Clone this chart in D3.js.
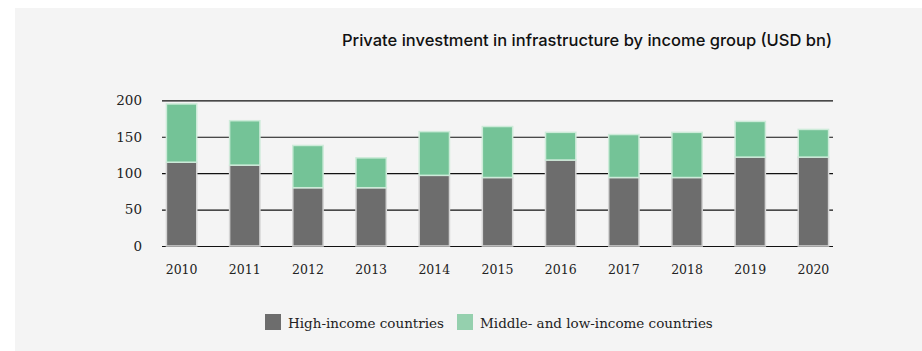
<!DOCTYPE html>
<html>
<head>
<meta charset="utf-8">
<script src="https://cdn.jsdelivr.net/npm/d3@7"></script>
<style>
  html, body { margin: 0; padding: 0; background: #ffffff; }
  svg { display: block; }
</style>
</head>
<body>
<svg id="chart" width="922" height="351"></svg>
<script>
// Private investment in infrastructure, USD bn
const years = ["2010","2011","2012","2013","2014","2015","2016","2017","2018","2019","2020"];
const highIncome = [115, 111, 80, 80, 97, 94, 118, 94, 94, 122, 122];
const middleLowIncome = [80, 61, 58, 41, 60, 70, 38, 59, 62, 49, 38];
const yTicks = [0, 50, 100, 150, 200];
const seriesNames = ["High-income countries", "Middle- and low-income countries"];
const titleText = "Private investment in infrastructure by income group (USD bn)";

const W = 922, H = 351;
const svg = d3.select("#chart");

const serif = "'DejaVu Serif', 'Liberation Serif', serif";
const sans = "Inter, 'Liberation Sans', Arial, sans-serif";

// panel background
svg.append("rect").attr("x", 15).attr("y", 8).attr("width", W - 15).attr("height", H - 8)
  .attr("fill", "#f4f4f4");

const x = d3.scaleBand().domain(years).range([162, 833]).paddingInner(0.52).paddingOuter(0.07);
const y = d3.scaleLinear().domain([0, 200]).range([246, 100.3]);

// gridlines with left ticks
const yAxis = d3.axisLeft(y).tickValues(yTicks).tickSize(-(833 - 162)).tickPadding(20).tickFormat(d3.format("d"));
const gy = svg.append("g").attr("transform", "translate(162,0)").call(yAxis);
gy.select(".domain").remove();
gy.selectAll(".tick line").attr("stroke", "#111").attr("stroke-width", 1.2);
gy.selectAll(".tick text").attr("font-family", serif).attr("font-size", 13.5).attr("fill", "#222");

// stacked bars
const rows = years.map((yr, i) => ({ year: yr, high: highIncome[i], mid: middleLowIncome[i] }));
const stack = d3.stack().keys(["high", "mid"])(rows);
const fills = ["#6d6d6d", "#74c397"];
const strokes = ["#d4d4d4", "#cdebd9"];

stack.forEach((layer, li) => {
  svg.append("g").selectAll("rect").data(layer).join("rect")
    .attr("x", d => x(d.data.year))
    .attr("width", x.bandwidth())
    .attr("y", d => y(d[1]))
    .attr("height", d => y(d[0]) - y(d[1]))
    .attr("fill", fills[li])
    .attr("stroke", strokes[li])
    .attr("stroke-width", 1.5);
});

// year labels
const xAxis = d3.axisBottom(x).tickSize(0).tickPadding(0);
const gx = svg.append("g").attr("transform", "translate(0,265)").call(xAxis);
gx.select(".domain").remove();
gx.selectAll(".tick text").attr("font-family", serif).attr("font-size", 12.5).attr("fill", "#222");

// title
svg.append("text").attr("x", 832).attr("y", 46).attr("text-anchor", "end")
  .attr("font-family", sans).attr("font-size", 16.5).attr("font-weight", 500).attr("fill", "#111")
  .text(titleText);

// legend
const legendColors = ["#6d6d6d", "#95d0ae"];
const legendX = [265, 457];
seriesNames.forEach((name, i) => {
  const g = svg.append("g").attr("transform", `translate(${legendX[i]},314)`);
  g.append("rect").attr("width", 16).attr("height", 16).attr("fill", legendColors[i]);
  g.append("text").attr("x", 23).attr("y", 14).attr("font-family", serif).attr("font-size", 13.5)
    .attr("fill", "#222").text(name);
});
</script>
</body>
</html>
